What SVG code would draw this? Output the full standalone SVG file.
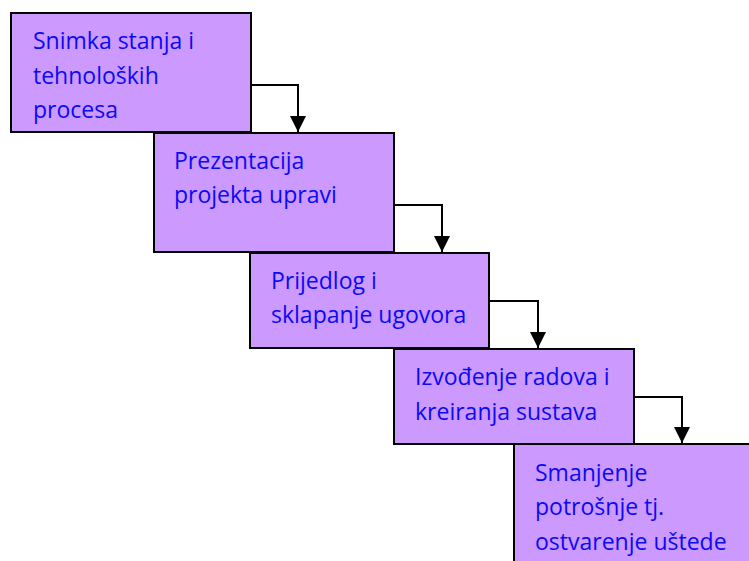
<svg xmlns="http://www.w3.org/2000/svg" width="749" height="561" viewBox="0 0 749 561">
<style>
.box{fill:#cc99ff;stroke:#000;stroke-width:2}
.t{font-family:"Open Sans","Liberation Sans",sans-serif;font-size:23px;fill:#0a0af5}
.c{fill:none;stroke:#000;stroke-width:2}
</style>
<defs>
<marker id="ah" viewBox="0 0 16 16" refX="16" refY="8" markerWidth="16" markerHeight="16" markerUnits="userSpaceOnUse" orient="auto">
<path d="M0,0 L16,8 L0,16 Z" fill="#000"/>
</marker>
</defs>
<rect x="0" y="0" width="749" height="561" fill="#fff"/>
<g id="connectors">
<path class="c" d="M251,85 H298 V132" marker-end="url(#ah)"/>
<path class="c" d="M394,205 H442 V252" marker-end="url(#ah)"/>
<path class="c" d="M489,301 H538 V348" marker-end="url(#ah)"/>
<path class="c" d="M634,397 H682 V443" marker-end="url(#ah)"/>
</g>
<g id="n1">
<rect class="box" x="11" y="13" width="240" height="119"/>
<text class="t" x="33" y="49">Snimka stanja i</text>
<text class="t" x="33" y="83.5">tehnoloških</text>
<text class="t" x="33" y="118">procesa</text>
</g>
<g id="n2">
<rect class="box" x="154" y="133" width="240" height="119"/>
<text class="t" x="174" y="169">Prezentacija</text>
<text class="t" x="174" y="203">projekta upravi</text>
</g>
<g id="n3">
<rect class="box" x="250" y="253" width="239" height="95"/>
<text class="t" x="271" y="289">Prijedlog i</text>
<text class="t" x="271" y="323">sklapanje ugovora</text>
</g>
<g id="n4">
<rect class="box" x="394" y="349" width="240" height="95"/>
<text class="t" x="415" y="385">Izvođenje radova i</text>
<text class="t" x="415" y="420">kreiranja sustava</text>
</g>
<g id="n5">
<rect class="box" x="514" y="444" width="260" height="140"/>
<text class="t" x="535" y="481">Smanjenje</text>
<text class="t" x="535" y="515">potrošnje tj.</text>
<text class="t" x="535" y="550">ostvarenje uštede</text>
</g>
</svg>
